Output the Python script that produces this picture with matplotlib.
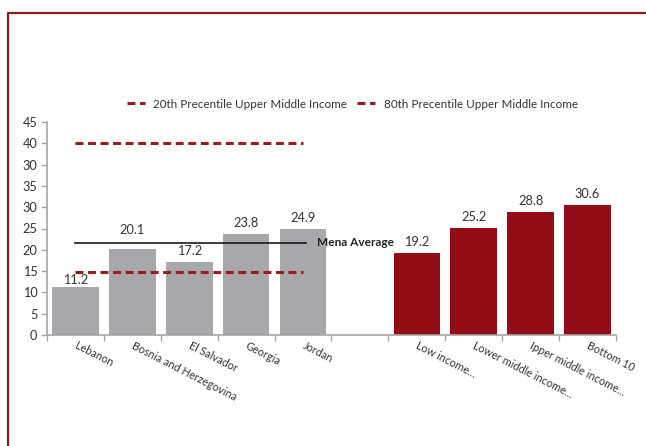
import matplotlib
matplotlib.use("Agg")
import matplotlib.pyplot as plt
from matplotlib.lines import Line2D

plt.rcParams['font.family'] = ['Lato', 'DejaVu Sans']

countries = ["Lebanon", "Bosnia and Herzegovina", "El Salvador", "Georgia", "Jordan"]
country_values = [11.2, 20.1, 17.2, 23.8, 24.9]
groups = ["Low income...", "Lower middle income...", "Ipper middle income...", "Bottom 10"]
group_values = [19.2, 25.2, 28.8, 30.6]
mena_average = 21.6
pct20 = 14.8
pct80 = 45.0
ytick_positions = [0, 5, 10, 15, 20, 25, 30, 35, 40, 45, 50]
ytick_labels = ["0", "5", "10", "15", "20", "25", "30", "35", "30", "40", "45"]

GRAY = "#A7A8AC"
RED = "#930D16"
DASH_RED = "#9B1B1F"
AXIS = "#A6A6A6"
TEXT = "#333333"

fig = plt.figure(figsize=(6.46, 4.46), dpi=100)
ax = fig.add_axes([47/646, 1 - 335/446, (616 - 47)/646, (335 - 122)/446])

n_c = len(countries)
x_c = list(range(n_c))
x_g = [n_c + 1 + i for i in range(len(groups))]

ax.bar(x_c, country_values, width=0.82, color=GRAY, zorder=2)
ax.bar(x_g, group_values, width=0.82, color=RED, zorder=2)

# value labels; country labels that would sit on the average line are lifted
for x, v in zip(x_c, country_values):
    lift = 3.5
    if v < mena_average < v + 3:
        lift = 9.5
    elif v < pct20 < v + 4:
        lift = 1.0
    ax.annotate(f"{v:.1f}", (x, v), xytext=(0, lift), textcoords="offset points",
                ha="center", va="bottom", fontsize=9.2, color=TEXT, zorder=4)
for x, v in zip(x_g, group_values):
    ax.annotate(f"{v:.1f}", (x, v), xytext=(0, 3.5), textcoords="offset points",
                ha="center", va="bottom", fontsize=9.2, color=TEXT, zorder=4)

# reference lines across the country bars
ls = (0, (2.6, 1.5))
ax.plot([0, 4], [pct20, pct20], color=DASH_RED, lw=2.2, linestyle=ls, zorder=3)
ax.plot([0, 4], [pct80, pct80], color=DASH_RED, lw=2.2, linestyle=ls, zorder=3)
ax.plot([0, 4.05], [mena_average, mena_average], color="#1a1a1a", lw=1.2, zorder=3)
ax.text(4.25, mena_average, "Mena Average", fontsize=8.6, fontweight="bold",
        color="#222222", va="center", ha="left")

ax.set_xlim(-0.5, 9.5)
ax.set_ylim(0, 50)
ax.set_yticks(ytick_positions)
ax.set_yticklabels(ytick_labels, fontsize=9.2, color=TEXT)

# category boundaries carry the tick marks
ax.set_xticks([i - 0.5 for i in range(11)])
ax.set_xticklabels([])
ax.tick_params(axis="x", length=4, color=AXIS, width=1)
ax.tick_params(axis="y", length=4, color=AXIS, width=1, pad=3)

labels = countries + [""] + groups
for i, lab in enumerate(labels):
    if lab:
        ax.text(i, -2.4, lab, rotation=-27, rotation_mode="anchor",
                ha="left", va="center", fontsize=7.8, color=TEXT)

for s in ["top", "right"]:
    ax.spines[s].set_visible(False)
for s in ["left", "bottom"]:
    ax.spines[s].set_color(AXIS)
    ax.spines[s].set_linewidth(1.2)

handles = [Line2D([], [], color=DASH_RED, lw=2.2, linestyle=ls),
           Line2D([], [], color=DASH_RED, lw=2.2, linestyle=ls)]
fig.legend(handles, ["20th Precentile Upper Middle Income", "80th Precentile Upper Middle Income"],
           loc="center", bbox_to_anchor=(0.545, 1 - 104/446), ncol=2, frameon=False,
           fontsize=8.4, handlelength=1.6, handletextpad=0.7, columnspacing=0.8,
           labelcolor=TEXT)

# frame on the left and top edges
fig.add_artist(Line2D([8/646, 8/646, 1.0], [0.0, 1 - 13/446, 1 - 13/446],
                      transform=fig.transFigure, color="#8E1B1F", lw=1.6))

fig.savefig("out.png", dpi=100)
